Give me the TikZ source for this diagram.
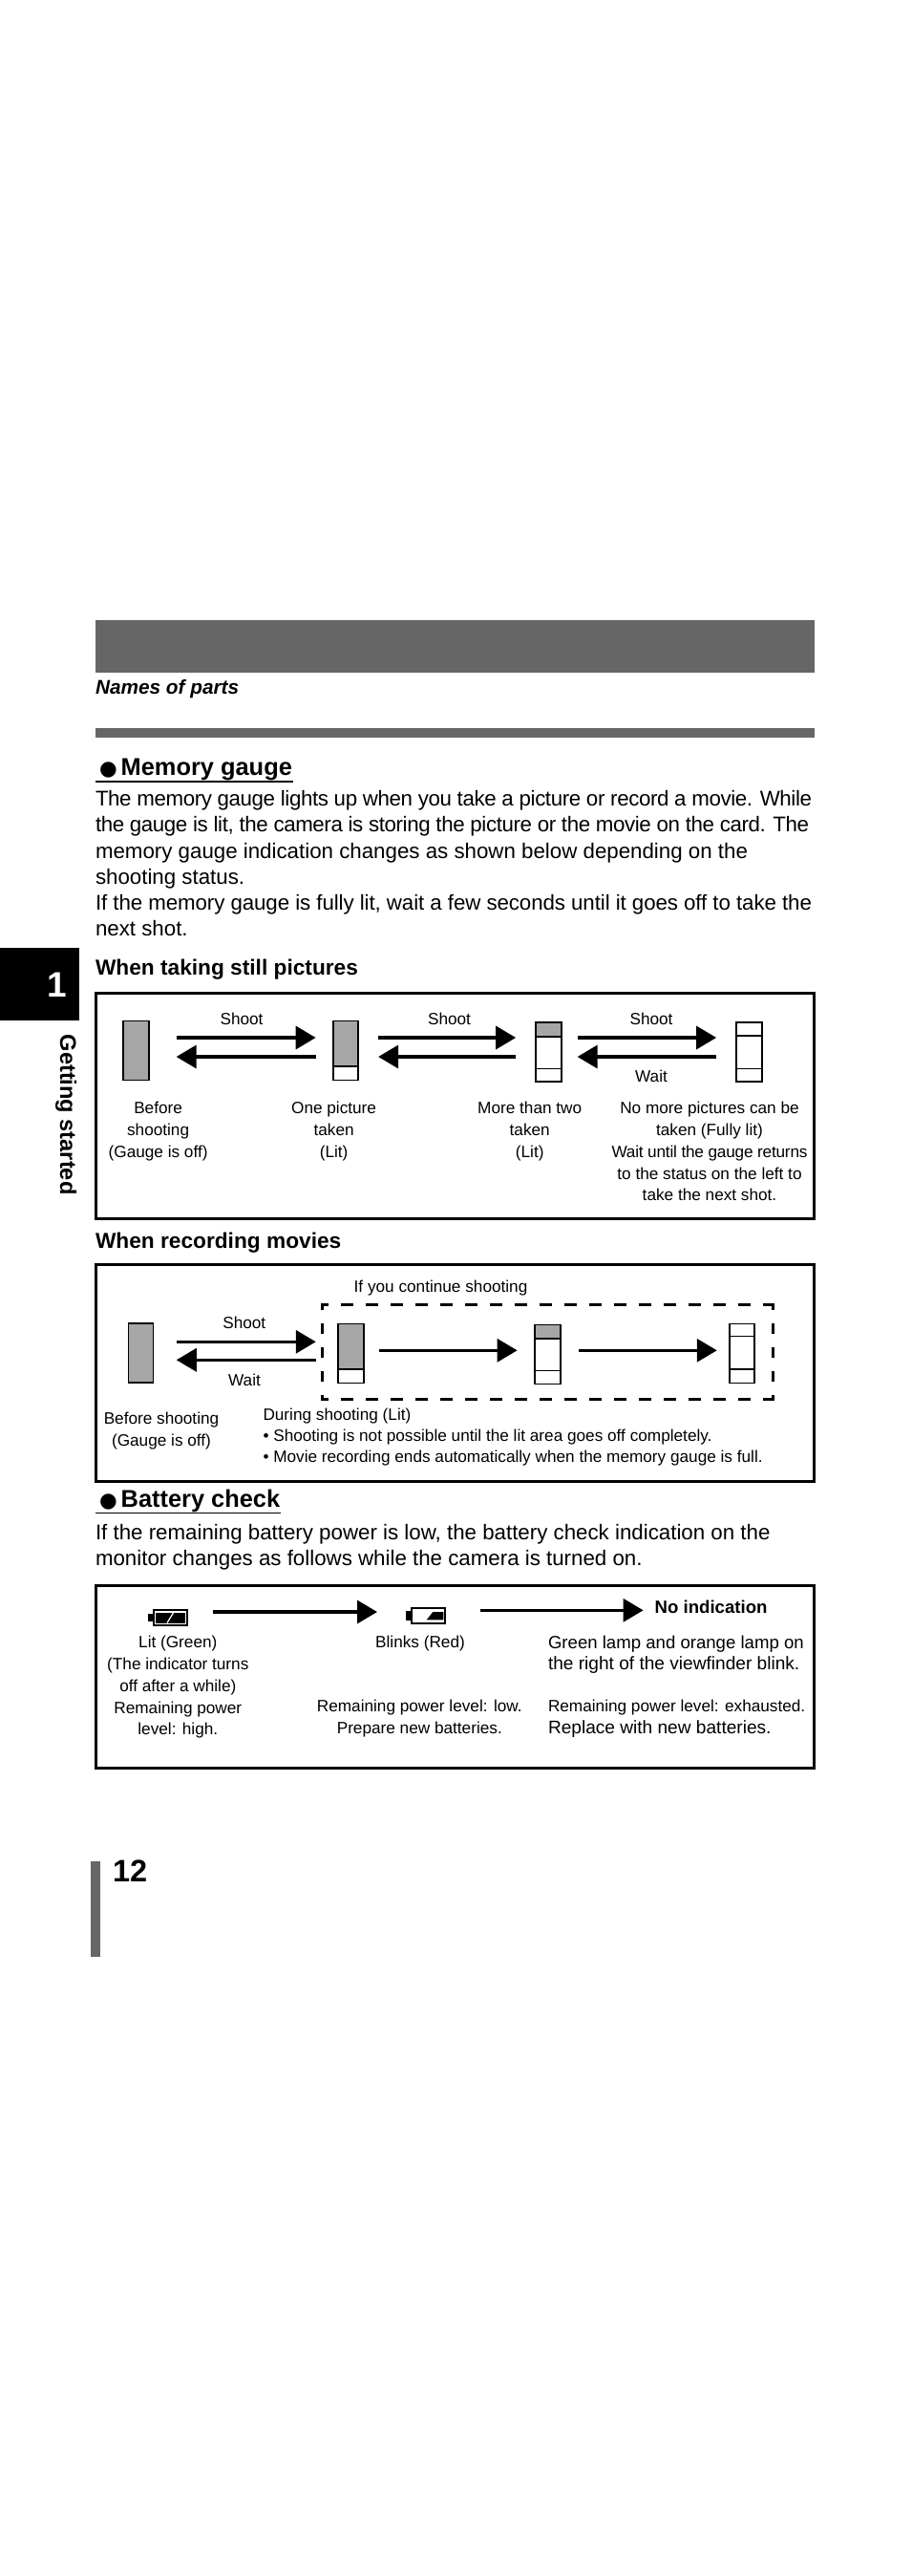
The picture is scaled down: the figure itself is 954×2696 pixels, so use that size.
\documentclass[tikz,border=0pt]{standalone}
\usepackage{fontspec}
\setmainfont{Liberation Sans}
\newfontfamily\dotfont{DejaVu Sans}
\usetikzlibrary{positioning,arrows.meta}

\definecolor{bardark}{HTML}{666666}
\definecolor{gaugelit}{HTML}{A6A6A6}

\newcommand{\squeezed}[2]{{\addfontfeature{LetterSpace=#1}#2}}

\tikzset{
	small/.style={font=\fontsize{17.2}{22.7}\selectfont,align=center},
	smallleft/.style={font=\fontsize{17.2}{22.2}\selectfont,align=left},
	wideleft/.style={font=\fontsize{18.6}{22.2}\selectfont,align=left},
	body/.style={font=\fontsize{22.3}{27.2}\selectfont,align=left,anchor=north west},
	heading/.style={font=\fontsize{25.4}{30}\selectfont\bfseries,anchor=base west},
	subheading/.style={font=\fontsize{22.7}{27}\selectfont\bfseries,anchor=base west},
	bullet/.style={font=\fontsize{21.4}{30}\selectfont\dotfont,anchor=base west},
	frame/.style={draw,line width=3pt},
	gauge/.style={draw,line width=1.7pt,minimum width=26.5pt,minimum height=62pt},
	lit/.style={draw,line width=1.7pt,fill=gaugelit},
	thickdiv/.style={line width=1.7pt},
	thindiv/.style={line width=0.9pt},
	flow/.style={line width=3.3pt,-{Triangle[length=21pt,width=24pt]}},
	dashtop/.style={line width=3pt,dash pattern=on 13pt off 13pt,dash phase=4.5pt,shorten <=-1.5pt,shorten >=-1.5pt},
	dashside/.style={line width=3pt,dash pattern=on 11pt off 14pt,dash phase=5.7pt},
	battery/.style={draw,line width=2pt,minimum width=35pt,minimum height=15.6pt}
}

\begin{document}
\begin{tikzpicture}[x=1pt,y=-1pt,
			every node/.style={inner sep=0pt,outer sep=0pt}]
			
			\useasboundingbox(0,0)rectangle(954,2696);
			
			\node(topbar)[fill=bardark,minimum width=753pt,minimum height=55pt,anchor=north west] at (100,649){};
			
			\node(names)[font=\fontsize{20.8}{25}\selectfont\bfseries\itshape,anchor=base west] at (100,726){Names of parts};
			
			\node(midbar)[fill=bardark,minimum width=753pt,minimum height=10pt,anchor=north west] at (100,762){};
			
			\node(dot1)[bullet] at (104,811){●};
			
			\node(head1)[heading,right=4pt of dot1.base east,anchor=base west]{Memory gauge};
			
			\draw[line width=1.8pt]([xshift=-4pt,yshift=-1.5pt]dot1.base west|-head1.south)--([xshift=1pt,yshift=-1.5pt]head1.south east);
			
			\node(text1)[body] at (100,827.5){\squeezed{-1.8}{The memory gauge lights up when you take a picture or record a movie. While}\\\squeezed{-1.8}{the gauge is lit, the camera is storing the picture or the movie on the card. The}\\memory gauge indication changes as shown below depending on the\\shooting status.\\\squeezed{-0.4}{If the memory gauge is fully lit, wait a few seconds until it goes off to take the}\\next shot.};
			
			\node(sub1)[subheading] at (100,1020){When taking still pictures};
			
			\node(frame1)[frame,minimum width=751.5pt,minimum height=235.5pt,anchor=north west] at (100.7,1039.7){};
			
			\node(g1)[gauge,fill=gaugelit] at (142.4,1099.5){};
			
			\node(g2)[gauge,right=193pt of g1]{};
			
			\node(g3)[gauge,right=186pt of g2,yshift=-1.5pt]{};
			
			\node(g4)[gauge,right=183.5pt of g3]{};
			
			\draw[lit](g2.north west)rectangle([yshift=14.5pt]g2.south east);
			
			\draw[lit](g3.north west)rectangle([yshift=-15pt]g3.north east);
			
			\draw[thindiv]([yshift=14pt]g3.south west)--([yshift=14pt]g3.south east);
			
			\draw[thickdiv]([yshift=-14pt]g4.north west)--([yshift=-14pt]g4.north east);
			
			\draw[thindiv]([yshift=14pt]g4.south west)--([yshift=14pt]g4.south east);
			
			\draw[flow]([xshift=29pt,yshift=13.5pt]g1.east)--([xshift=-18pt,yshift=13.5pt]g2.west);
			
			\draw[flow]([xshift=-18pt,yshift=-6.5pt]g2.west)--([xshift=29pt,yshift=-6.5pt]g1.east);
			
			\draw[flow]([xshift=21pt,yshift=13.5pt]g2.east)--([xshift=-21pt,yshift=15pt]g3.west);
			
			\draw[flow]([xshift=-21pt,yshift=-5pt]g3.west)--([xshift=21pt,yshift=-6.5pt]g2.east);
			
			\draw[flow]([xshift=17pt,yshift=15pt]g3.east)--([xshift=-21pt,yshift=15pt]g4.west);
			
			\draw[flow]([xshift=-21pt,yshift=-5pt]g4.west)--([xshift=17pt,yshift=-5pt]g3.east);
			
			\node(shoot1)[small,anchor=base] at (253,1072.7){Shoot};
			
			\node(shoot2)[small,anchor=base] at (470.5,1072.7){Shoot};
			
			\node(shoot3)[small,anchor=base] at (682,1072.7){Shoot};
			
			\node(wait1)[small,anchor=base] at (682,1132.7){Wait};
			
			\node(cap1)[small,anchor=north] at (165.6,1153.5){Before\\shooting\\(Gauge is off)};
			
			\node(cap2)[small,anchor=north] at (349.6,1153.5){One picture\\taken\\(Lit)};
			
			\node(cap3)[small,anchor=north] at (554.7,1153.5){More than two\\taken\\(Lit)};
			
			\node(cap4)[small,anchor=north] at (743,1153.5){No more pictures can be\\taken (Fully lit)\\\squeezed{-1.2}{Wait until the gauge returns}\\to the status on the left to\\take the next shot.};
			
			\node(sub2)[subheading] at (100,1306.7){When recording movies};
			
			\node(frame2)[frame,minimum width=751.5pt,minimum height=226.7pt,anchor=north west] at (100.7,1323.3){};
			
			\node(contlabel)[small,anchor=base west] at (370.7,1352){If you continue shooting};
			
			\node(contbox)[minimum width=472.4pt,minimum height=99pt,anchor=north west] at (337.3,1365.7){};
			
			\draw[dashtop](contbox.north west)--(contbox.north east);
			
			\draw[dashtop](contbox.south west)--(contbox.south east);
			
			\draw[dashside](contbox.north west)--(contbox.south west);
			
			\draw[dashside](contbox.north east)--(contbox.south east);
			
			\node(m1)[gauge,line width=1.2pt,fill=gaugelit] at (147.5,1416){};
			
			\node(m2)[gauge,right=193.5pt of m1,yshift=-0.6pt]{};
			
			\node(m3)[gauge,right=179.5pt of m2,yshift=-0.9pt]{};
			
			\node(m4)[gauge,right=177pt of m3,yshift=0.9pt]{};
			
			\draw[lit](m2.north west)rectangle([yshift=14.5pt]m2.south east);
			
			\draw[lit](m3.north west)rectangle([yshift=-14.5pt]m3.north east);
			
			\draw[thindiv]([yshift=14pt]m3.south west)--([yshift=14pt]m3.south east);
			
			\draw[thindiv]([yshift=-13pt]m4.north west)--([yshift=-13pt]m4.north east);
			
			\draw[thickdiv]([yshift=14.5pt]m4.south west)--([yshift=14.5pt]m4.south east);
			
			\draw[flow]([xshift=24pt,yshift=11.7pt]m1.east)--([xshift=-23.5pt,yshift=12.3pt]m2.west);
			
			\draw[flow]([xshift=-23.5pt,yshift=-6.7pt]m2.west)--([xshift=24pt,yshift=-7.3pt]m1.east);
			
			\draw[flow]([xshift=16pt,yshift=3.3pt]m2.east)--([xshift=-18.6pt,yshift=4.2pt]m3.west);
			
			\draw[flow]([xshift=19.4pt,yshift=4.2pt]m3.east)--([xshift=-13pt,yshift=3.3pt]m4.west);
			
			\node(shoot4)[small,anchor=base] at (255.8,1390){Shoot};
			
			\node(wait2)[small,anchor=base] at (256,1450){Wait};
			
			\node(cap5)[small,anchor=north] at (169,1478.5){Before shooting\\(Gauge is off)};
			
			\node(cap6)[smallleft,anchor=north west] at (275.5,1474){During shooting (Lit)\\• Shooting is not possible until the lit area goes off completely.\\• Movie recording ends automatically when the memory gauge is full.};
			
			\node(dot2)[bullet] at (104,1577){●};
			
			\node(head2)[heading,right=4pt of dot2.base east,anchor=base west]{Battery check};
			
			\draw[line width=1.2pt]([xshift=-4pt,yshift=-1.5pt]dot2.base west|-head2.south)--([xshift=1pt,yshift=-1.5pt]head2.south east);
			
			\node(text2)[body] at (100,1595.5){If the remaining battery power is low, the battery check indication on the\\monitor changes as follows while the camera is turned on.};
			
			\node(frame3)[frame,minimum width=751.5pt,minimum height=191.7pt,anchor=north west] at (100.7,1659){};
			
			\node(bat1)[battery] at (178.5,1693){};
			
			\node(bat2)[battery,right=235pt of bat1,yshift=2pt]{};
			
			\node(none)[font=\fontsize{18.6}{22}\selectfont\bfseries,anchor=base west] at (685.7,1688.3){No indication};
			
			\fill([xshift=-23.2pt,yshift=3.7pt]bat1.center)rectangle([xshift=-18.5pt,yshift=-3.7pt]bat1.center);
			
			\fill([xshift=-15.5pt,yshift=5.5pt]bat1.center)rectangle([xshift=15.5pt,yshift=-5.5pt]bat1.center);
			
			\draw[white,line width=1.2pt]([xshift=-3.5pt,yshift=-5.5pt]bat1.center)--([xshift=3.2pt,yshift=5.5pt]bat1.center);
			
			\fill([xshift=-23.2pt,yshift=4.7pt]bat2.center)rectangle([xshift=-18.5pt,yshift=-5pt]bat2.center);
			
			\fill([xshift=-1.8pt,yshift=-4.3pt]bat2.center)--([xshift=4.8pt,yshift=4pt]bat2.center)--([xshift=15.8pt,yshift=4pt]bat2.center)--([xshift=15.8pt,yshift=-4.3pt]bat2.center)--cycle;
			
			\draw[flow]([xshift=27pt,yshift=6pt]bat1.east)--([xshift=-36pt,yshift=4pt]bat2.west);
			
			\draw[flow]([xshift=37pt,yshift=5.7pt]bat2.east)--([xshift=-12.1pt,yshift=3pt]none.base west);
			
			\node(cap7)[small,anchor=north] at (186.3,1712.5){Lit (Green)\\(The indicator turns\\off after a while)\\Remaining power\\level: high.};
			
			\node(cap8)[small,anchor=north] at (440,1712.5){Blinks (Red)};
			
			\node(cap9)[small,anchor=north] at (439.3,1779.5){Remaining power level: low.\\Prepare new batteries.};
			
			\node(cap10)[wideleft,anchor=north west] at (574,1711.5){Green lamp and orange lamp on\\{\fontsize{19.1}{22.2}\selectfont the right of the viewfinder blink.}};
			
			\node(cap11)[smallleft,anchor=north west] at (574,1779.5){Remaining power level: exhausted.\\{\fontsize{19.1}{22.2}\selectfont Replace with new batteries.}};
			
			\node(tab)[fill=black,minimum width=82.7pt,minimum height=75.4pt,anchor=north west] at (0,992.3){};
			
			\node(tabnum)[font=\fontsize{37}{40}\selectfont\bfseries,text=white,anchor=base] at (60,1043){1};
			
			\node(tabname)[font=\fontsize{23.6}{26}\selectfont\bfseries,rotate=-90,anchor=base west] at (63,1082.7){Getting started};
			
			\node(pagebar)[fill=bardark,minimum width=10pt,minimum height=100pt,anchor=north west] at (95,1948){};
			
			\node(pagenum)[font=\fontsize{32.5}{36}\selectfont\bfseries,anchor=base west] at (118,1969.3){12};
			
		\end{tikzpicture}
\end{document}
